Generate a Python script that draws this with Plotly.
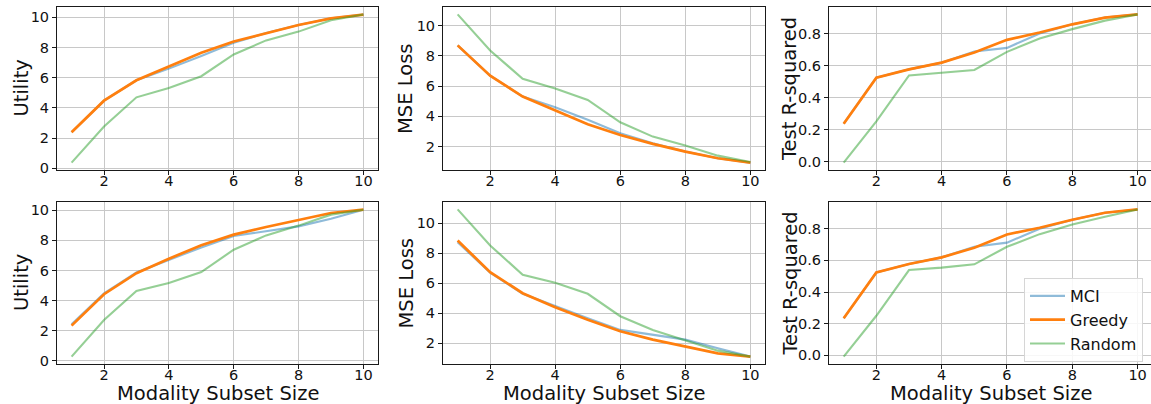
import plotly.graph_objects as go

W, H = 1151, 404

sizes = [1, 2, 3, 4, 5, 6, 7, 8, 9, 10]
x_ticks = [2, 4, 6, 8, 10]

# Row 1
util1_mci = [2.39, 4.48, 5.83, 6.60, 7.43, 8.31, 8.96, 9.49, 9.93, 10.18]
util1_greedy = [2.39, 4.48, 5.83, 6.76, 7.65, 8.40, 8.96, 9.49, 9.93, 10.18]
util1_random = [0.38, 2.77, 4.70, 5.32, 6.10, 7.54, 8.47, 9.05, 9.80, 10.18]

mse1_mci = [8.70, 6.69, 5.31, 4.61, 3.77, 2.88, 2.22, 1.67, 1.23, 0.94]
mse1_greedy = [8.70, 6.69, 5.31, 4.39, 3.48, 2.77, 2.18, 1.67, 1.23, 0.94]
mse1_random = [10.75, 8.36, 6.49, 5.84, 5.09, 3.61, 2.66, 2.07, 1.40, 0.98]

r2_1_mci = [0.237, 0.524, 0.576, 0.618, 0.687, 0.710, 0.800, 0.857, 0.899, 0.919]
r2_1_greedy = [0.237, 0.524, 0.576, 0.618, 0.681, 0.760, 0.806, 0.857, 0.899, 0.919]
r2_1_random = [-0.006, 0.251, 0.538, 0.553, 0.572, 0.685, 0.769, 0.827, 0.880, 0.919]

# Row 2
util2_mci = [2.42, 4.47, 5.87, 6.71, 7.53, 8.29, 8.60, 8.93, 9.44, 10.04]
util2_greedy = [2.33, 4.42, 5.82, 6.78, 7.67, 8.38, 8.89, 9.38, 9.82, 10.04]
util2_random = [0.27, 2.71, 4.64, 5.16, 5.89, 7.38, 8.33, 8.98, 9.71, 10.04]

mse2_mci = [8.73, 6.69, 5.29, 4.47, 3.67, 2.89, 2.56, 2.24, 1.67, 1.11]
mse2_greedy = [8.84, 6.73, 5.33, 4.40, 3.56, 2.80, 2.24, 1.78, 1.33, 1.11]
mse2_random = [10.91, 8.51, 6.56, 6.02, 5.29, 3.80, 2.89, 2.22, 1.51, 1.11]

r2_2_mci = [0.234, 0.524, 0.577, 0.619, 0.686, 0.712, 0.800, 0.857, 0.901, 0.922]
r2_2_greedy = [0.234, 0.524, 0.577, 0.619, 0.680, 0.764, 0.806, 0.857, 0.901, 0.922]
r2_2_random = [-0.008, 0.250, 0.539, 0.554, 0.575, 0.686, 0.766, 0.827, 0.876, 0.922]

method_names = ["MCI", "Greedy", "Random"]
y_titles = ["Utility", "MSE Loss", "Test R-squared"]
x_title = "Modality Subset Size"

panels = [
    [(util1_mci, util1_greedy, util1_random), (mse1_mci, mse1_greedy, mse1_random), (r2_1_mci, r2_1_greedy, r2_1_random)],
    [(util2_mci, util2_greedy, util2_random), (mse2_mci, mse2_greedy, mse2_random), (r2_2_mci, r2_2_greedy, r2_2_random)],
]

colors = ["rgba(31,119,180,0.5)", "#ff7f0e", "rgba(44,160,44,0.5)"]
widths = [2.1, 2.7, 2.1]

# layout (pixels)
col_px = [(57, 378), (443, 765), (829, 1151)]
row_px = [(7, 170), (202, 364)]
x_ranges = [[0.55, 10.45], [0.55, 10.45], [0.55, 10.41]]
y_ranges = [
    [[-0.11, 10.68], [0.45, 11.24], [-0.052, 0.965]],
    [[-0.22, 10.55], [0.62, 11.40], [-0.055, 0.969]],
]
y_dticks = [2, 2, 0.2]
y_formats = ["d", "d", ".1f"]
y_tick0 = [0, 0, 0]

fig = go.Figure()
layout = {}
font_family = "DejaVu Sans"
annotations = []

idx = 0
for r in range(2):
    for c in range(3):
        idx += 1
        xa = "xaxis" if idx == 1 else f"xaxis{idx}"
        ya = "yaxis" if idx == 1 else f"yaxis{idx}"
        xref = "x" if idx == 1 else f"x{idx}"
        yref = "y" if idx == 1 else f"y{idx}"
        x0, x1 = col_px[c]
        y0, y1 = row_px[r]
        common = dict(
            showline=True, linecolor="#1a1a1a", linewidth=1, mirror=True,
            showgrid=True, gridcolor="#c8c8c8", gridwidth=1,
            ticks="outside", ticklen=4, tickwidth=1, tickcolor="#1a1a1a",
            tickfont=dict(family=font_family, size=14.5, color="#111"),
            zeroline=False, automargin=False,
        )
        layout[xa] = dict(
            domain=[x0 / W, x1 / W], anchor=yref,
            range=x_ranges[c], tickvals=x_ticks, ticklabelstandoff=-6, **common,
        )
        layout[ya] = dict(
            domain=[1 - y1 / H, 1 - y0 / H], anchor=xref,
            range=y_ranges[r][c], dtick=y_dticks[c], tick0=y_tick0[c],
            tickformat=y_formats[c], **common,
        )
        series = panels[r][c]
        for k in range(3):
            fig.add_trace(go.Scatter(
                x=sizes, y=series[k], mode="lines", name=method_names[k],
                line=dict(color=colors[k], width=widths[k]),
                xaxis=xref, yaxis=yref,
                showlegend=(r == 1 and c == 2),
            ))

# y titles
y_title_x = [21, 405.5, 789.5]
for r in range(2):
    yc = (row_px[r][0] + row_px[r][1]) / 2
    for c in range(3):
        annotations.append(dict(
            text=y_titles[c], x=y_title_x[c] / W, y=1 - yc / H,
            xref="paper", yref="paper", xanchor="center", yanchor="middle",
            textangle=-90, showarrow=False,
            font=dict(family=font_family, size=19.5, color="#111"),
        ))
# x titles (bottom row)
for c in range(3):
    xc = (col_px[c][0] + col_px[c][1]) / 2 if c < 2 else 990.5
    annotations.append(dict(
        text=x_title, x=xc / W, y=1 - 393 / H,
        xref="paper", yref="paper", xanchor="center", yanchor="middle",
        showarrow=False,
        font=dict(family=font_family, size=19.5, color="#111"),
    ))

fig.update_layout(
    **layout,
    template="none",
    width=W, height=H,
    margin=dict(l=0, r=0, t=0, b=0, autoexpand=False),
    paper_bgcolor="white", plot_bgcolor="white",
    annotations=annotations,
    legend=dict(
        x=1143 / W, y=1 - 278 / H, xanchor="right", yanchor="top",
        bgcolor="rgba(255,255,255,0.85)", bordercolor="#d6d6d6", borderwidth=1,
        font=dict(family=font_family, size=16, color="#111"),
        itemwidth=35,
    ),
    showlegend=True,
)

fig.write_html(
    "out.html",
    config={"displayModeBar": False},
    post_script="document.body.style.margin='0';document.body.style.overflow='hidden';",
)
